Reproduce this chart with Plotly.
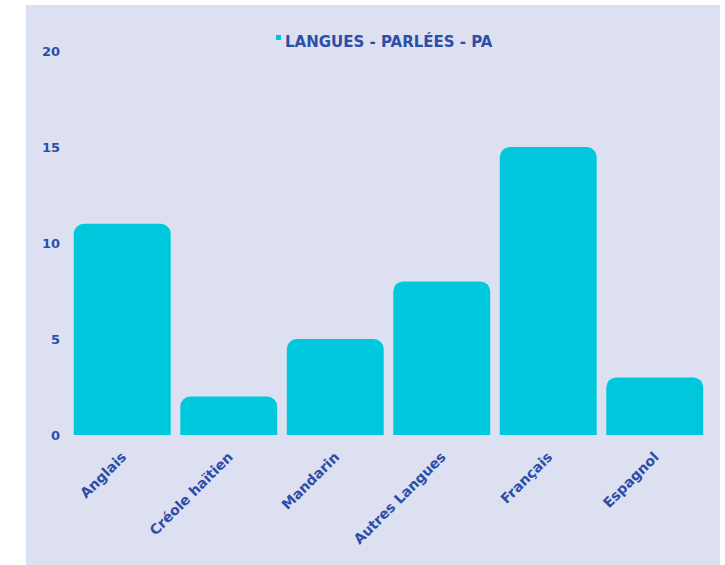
import plotly.graph_objects as go

categories = ["Anglais", "Créole haïtien", "Mandarin", "Autres Langues", "Français", "Espagnol"]
values = [11, 2, 5, 8, 15, 3]
series_name = "LANGUES - PARLÉES - PA"
y_ticks = [0, 5, 10, 15, 20]

W, H = 725, 565
ML, MR, MT, MB = 69, 17, 51, 130
pw, ph = W - ML - MR, H - MT - MB

BAR = "#00c8dc"
TXT = "#2d4ea8"
BG = "#dce0f0"
FONT = "'DejaVu Sans', sans-serif"

fig = go.Figure()
fig.add_trace(go.Bar(
    x=categories, y=values, marker=dict(color=BAR, cornerradius=10, line=dict(width=0)),
    showlegend=False, name=series_name, hoverinfo="x+y",
))
fig.add_trace(go.Scatter(
    x=[None], y=[None], mode="markers", name=series_name,
    marker=dict(symbol="square", size=1, color="rgba(0,0,0,0)"), showlegend=True,
))

def px_x(p):
    return (p - ML) / pw

def px_y(p):
    return (H - MB - p) / ph

# lavender panel (white strip on left, top and right)
fig.add_shape(type="rect", xref="paper", yref="paper", x0=px_x(26), x1=px_x(720),
              y0=px_y(H), y1=px_y(5), fillcolor=BG, line=dict(width=0), layer="below")
# small legend square just before the legend text
fig.add_shape(type="rect", xref="paper", yref="paper", x0=px_x(276), x1=px_x(281),
              y0=px_y(40), y1=px_y(35), fillcolor=BAR, line=dict(width=0), layer="above")

fig.update_layout(
    width=W, height=H,
    margin=dict(l=ML, r=MR, t=MT, b=MB, pad=0),
    paper_bgcolor="white", plot_bgcolor="rgba(0,0,0,0)",
    bargap=0.09,
    font=dict(family=FONT, color=TXT, size=12),
    legend=dict(orientation="h", x=px_x(285 - 40), xanchor="left", y=px_y(41), yanchor="middle",
                font=dict(size=15, color=TXT, weight="bold"),
                bgcolor="rgba(0,0,0,0)", borderwidth=0),
    xaxis=dict(type="category", tickangle=-45, showgrid=False, showline=False, zeroline=False,
               ticks="", ticklabelstandoff=10,
               tickfont=dict(size=14, color=TXT, weight="bold"), range=[-0.5, 5.5],
               fixedrange=True),
    yaxis=dict(range=[0, 20], tickvals=y_ticks, showgrid=False, showline=False, zeroline=False,
               ticks="", ticklabelstandoff=8,
               tickfont=dict(size=13, color=TXT, weight="bold"), fixedrange=True),
)

fig.write_html("out.html", config={"displayModeBar": False},
               post_script="document.body.style.margin='0';")
